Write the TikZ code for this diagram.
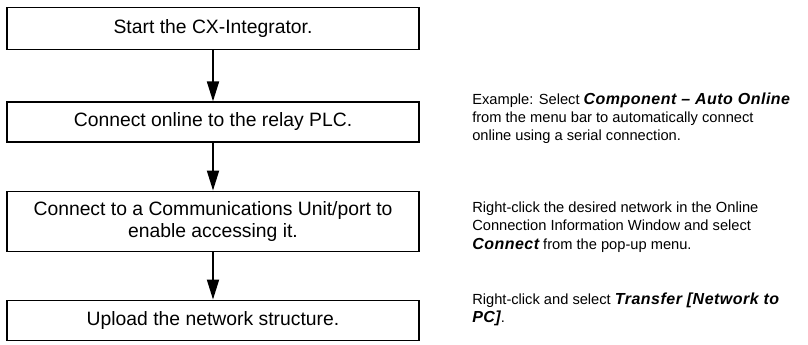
\documentclass[tikz,border=0pt]{standalone}
\usepackage{fontspec}
\setmainfont{Liberation Sans}
\usepackage{xcolor}
\usepackage{tikz}
\usetikzlibrary{arrows.meta,positioning}

\newcommand{\cxMenu}[1]{{\fontsize{12}{13.7}\selectfont\bfseries\itshape\addfontfeature{LetterSpace=3}#1}}

\begin{document}
\begin{tikzpicture}[x=.75pt,y=.75pt]
  \path[use as bounding box] (0,0) rectangle (808,345);

  \tikzset{
    cxStepBox/.style={
      draw=black,
      fill=white,
      line width=.9pt,
      minimum width=309pt,
      inner sep=2pt,
      align=center,
      font=\fontsize{14.5}{16.5}\selectfont
    },
    cxNote/.style={
      anchor=west,
      inner sep=0pt,
      align=left,
      font=\fontsize{11}{13.7}\selectfont
    },
    cxFlow/.style={
      -{Triangle[length=15pt,width=9pt]},
      draw=black,
      line width=1.4pt
    }
  }

  % steps on the left
  \node[cxStepBox,minimum height=32pt] (start)   at (213,316.5)
    {Start the CX-Integrator.};
  \node[cxStepBox,minimum height=30pt] (online)  at (213,223)
    {Connect online to the relay PLC.};
  \node[cxStepBox,minimum height=45.5pt] (unit)  at (213,123.5)
    {Connect to a Communications Unit/port to\\enable accessing it.};
  \node[cxStepBox,minimum height=30.5pt] (upload) at (213,24.5)
    {Upload the network structure.};

  \draw[cxFlow] (start.south)  -- (online.north);
  \draw[cxFlow] (online.south) -- (unit.north);
  \draw[cxFlow] (unit.south)   -- (upload.north);

  % notes on the right
  \node[cxNote] (noteOnline) at (472,227)
    {Example: Select \cxMenu{Component -- Auto Online}\\
     from the menu bar to automatically connect\\
     online using a serial connection.};
  \node[cxNote] (noteUnit) at (472,118)
    {Right-click the desired network in the Online\\
     Connection Information Window and select\\
     \cxMenu{Connect} from the pop-up menu.};
  \node[cxNote] (noteUpload) at (472,35.5)
    {Right-click and select \cxMenu{Transfer [Network to}\\
     \cxMenu{PC]}.};
\end{tikzpicture}
\end{document}
